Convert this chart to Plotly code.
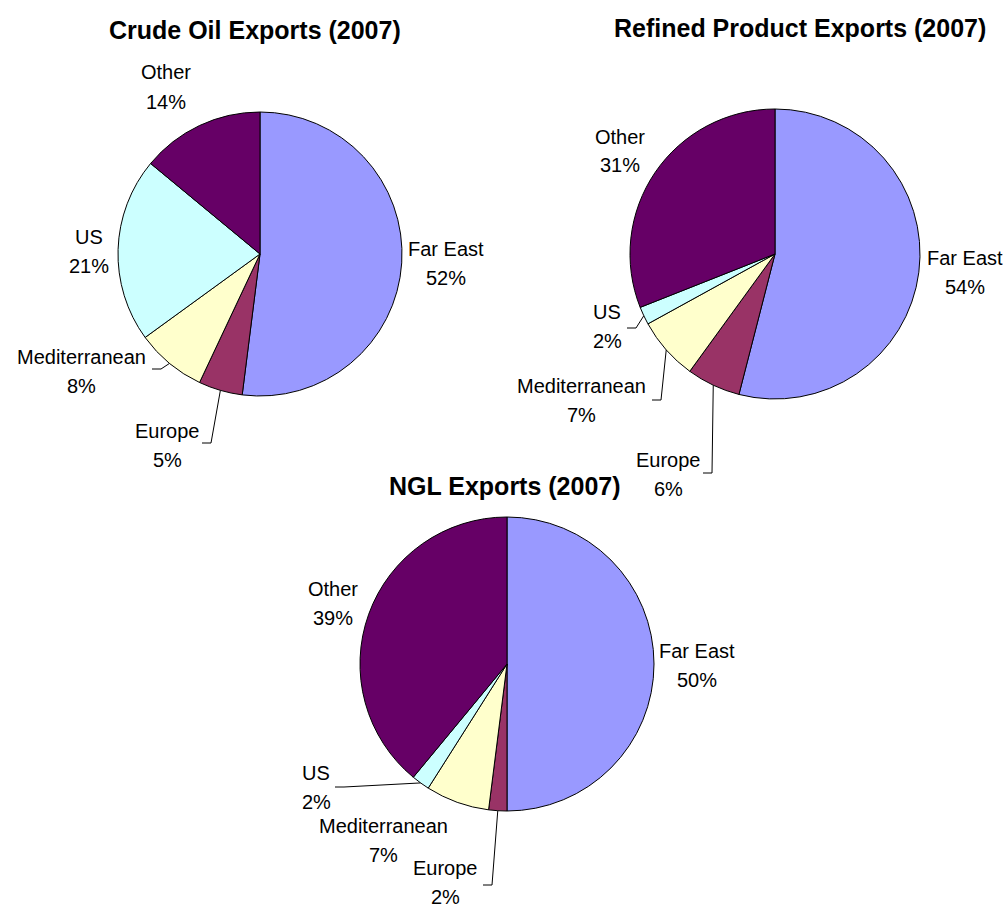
import math
import plotly.graph_objects as go

W, H = 1008, 909

# ---- data ----
categories = ["Far East", "Europe", "Mediterranean", "US", "Other"]
crude_oil = [52, 5, 8, 21, 14]
refined_products = [54, 6, 7, 2, 31]
ngl = [50, 2, 7, 2, 39]
titles = ["Crude Oil Exports (2007)", "Refined Product Exports (2007)", "NGL Exports (2007)"]

# ---- styles / layout (pixels) ----
colors = ["#9999FF", "#993366", "#FFFFCC", "#CCFFFF", "#660066"]
pie_geom = [(260, 254, 142), (775, 254, 145), (507, 664, 147)]  # cx, cy, r
title_pos = [(255, 30), (800, 28), (505, 486)]
label_pos = [
    [(446, 264), (167, 445), (81, 371), (89, 251), (166, 87)],
    [(965, 272), (668, 474), (581, 400), (607, 326), (620, 151)],
    [(697, 665), (445, 882), (383, 840), (316, 787), (333, 603)],
]
leader_anchor = [
    [None, (202, 443), (152, 369), None, None],
    [None, (703, 473), (652, 400), (627, 328), None],
    [None, (483, 885), None, (335, 787), None],
]
LINE_GAP = 29
FONT = "Liberation Sans, Arial, sans-serif"


def px(x):
    return x / W


def py(y):
    return 1 - y / H


fig = go.Figure()
annotations = []
shapes = []
series = [crude_oil, refined_products, ngl]
for k, vals in enumerate(series):
    cx, cy, r = pie_geom[k]
    fig.add_trace(go.Pie(
        labels=categories, values=vals, sort=False, direction="clockwise",
        rotation=0, textinfo="none", hoverinfo="label+percent",
        marker=dict(colors=colors, line=dict(color="black", width=1)),
        domain=dict(x=[px(cx - r), px(cx + r)], y=[py(cy + r), py(cy - r)]),
        showlegend=False,
    ))
    annotations.append(dict(
        x=px(title_pos[k][0]), y=py(title_pos[k][1]), xref="paper", yref="paper",
        text="<b>%s</b>" % titles[k], showarrow=False, xanchor="center", yanchor="middle",
        font=dict(family=FONT, size=25, color="black"), borderpad=0,
    ))
    total = float(sum(vals))
    cum = 0.0
    for i, v in enumerate(vals):
        mid = (cum + v / 2.0) / total * 2 * math.pi
        cum += v
        lx, ly = label_pos[k][i]
        for txt, dy in ((categories[i], -LINE_GAP / 2.0),
                        ("%d%%" % round(v / total * 100), LINE_GAP / 2.0)):
            annotations.append(dict(
                x=px(lx), y=py(ly + dy), xref="paper", yref="paper",
                text=txt, showarrow=False, xanchor="center", yanchor="middle",
                font=dict(family=FONT, size=20, color="black"), borderpad=0,
            ))
        a = leader_anchor[k][i]
        if a is not None:
            ex = cx + r * math.sin(mid)
            ey = cy - r * math.cos(mid)
            pts = [a, (a[0] + 9, a[1]), (ex, ey)]
            for (x0, y0), (x1, y1) in zip(pts[:-1], pts[1:]):
                shapes.append(dict(type="line", xref="paper", yref="paper",
                                   x0=px(x0), y0=py(y0), x1=px(x1), y1=py(y1),
                                   line=dict(color="black", width=1)))

fig.update_layout(
    width=W, height=H, margin=dict(l=0, r=0, t=0, b=0),
    paper_bgcolor="white", plot_bgcolor="white",
    annotations=annotations, shapes=shapes,
)
fig.write_html("out.html")
